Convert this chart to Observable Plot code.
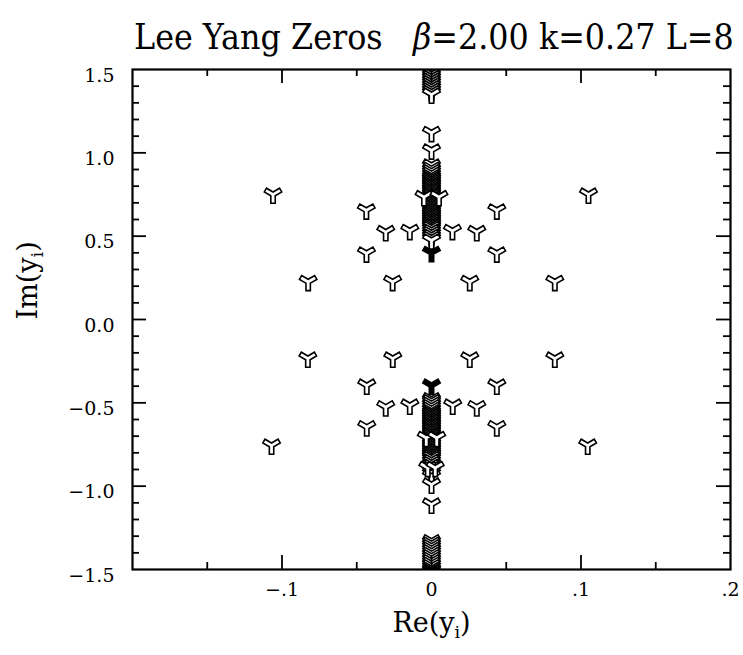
<!DOCTYPE html>
<html>
<head>
<meta charset="utf-8">
<script src="https://cdn.jsdelivr.net/npm/d3@7"></script>
<script src="https://cdn.jsdelivr.net/npm/@observablehq/plot@0.6"></script>
<style>
  body { margin: 0; background: #fff; }
  #chart { width: 743px; height: 655px; }
  #chart svg { display: block; }
</style>
</head>
<body>
<div id="chart"></div>
<script>
// ---- text ----
const titleMain = "Lee Yang Zeros\u00a0\u00a0\u00a0";
const titleBeta = "β";
const titleRest = "=2.00 k=0.27 L=8";
const xAxisTitle = ["Re(y", "i", ")"];
const yAxisTitle = ["Im(y", "i", ")"];

// ---- ticks ----
const xMinorTicks = [-0.15, -0.05, 0.05, 0.15];
const xMajorTicks = [-0.1, 0, 0.1];
const xLabelValues = [-0.1, 0, 0.1, 0.2];
const xTickLabels = ["\u2212.1", "0", ".1", ".2"];
const yMinorTicks = [-1.4, -1.3, -1.2, -1.1, -0.9, -0.8, -0.7, -0.6, -0.4, -0.3, -0.2, -0.1,
                     0.1, 0.2, 0.3, 0.4, 0.6, 0.7, 0.8, 0.9, 1.1, 1.2, 1.3, 1.4];
const yMajorTicks = [-1.0, -0.5, 0, 0.5, 1.0];
const yLabelValues = [-1.5, -1.0, -0.5, 0, 0.5, 1.0, 1.5];
const yTickLabels = ["\u22121.5", "\u22121.0", "\u22120.5", "0.0", "0.5", "1.0", "1.5"];

// ---- data: zeros off the imaginary axis ----
const offAxisRe = [-0.106, 0.105, -0.0436, 0.0437, -0.0306, 0.0303, -0.0145, 0.014,
                   -0.0435, 0.0437, -0.0825, 0.0825, -0.026, 0.0256,
                   -0.0827, 0.0825, -0.0259, 0.0256, -0.0433, 0.0437, -0.0145, 0.0142,
                   -0.0306, 0.0303, -0.0433, 0.0437, -0.107, 0.1045];
const offAxisIm = [0.75, 0.75, 0.655, 0.655, 0.525, 0.525, 0.532, 0.532,
                   0.397, 0.397, 0.226, 0.226, 0.226, 0.226,
                   -0.234, -0.234, -0.234, -0.234, -0.396, -0.396, -0.516, -0.516,
                   -0.526, -0.526, -0.646, -0.646, -0.756, -0.756];

// zeros very slightly off the axis (pairs inside the column)
const nearAxisRe = [-0.005, 0.005, -0.0035, 0.0035, -0.0025, 0.0025];
const nearAxisIm = [0.735, 0.735, -0.71, -0.71, -0.89, -0.89];

// zeros on the imaginary axis (Re = 0), from top to bottom
const onAxisIm = [1.52, 1.5, 1.485, 1.47, 1.455, 1.44, 1.425, 1.41, 1.395, 1.38, 1.365, 1.35,
  1.12, 1.015,
  0.925, 0.905, 0.89, 0.875, 0.86, 0.85, 0.84, 0.83, 0.82, 0.81, 0.80, 0.79, 0.78, 0.77,
  0.76, 0.75, 0.74, 0.73, 0.72, 0.71, 0.70, 0.69, 0.68, 0.67, 0.66, 0.65, 0.64, 0.63,
  0.62, 0.61, 0.60, 0.59, 0.58, 0.57, 0.56, 0.55, 0.535, 0.52, 0.505, 0.49, 0.475,
  -0.478, -0.49, -0.505, -0.52, -0.535, -0.55, -0.56, -0.57, -0.58, -0.59, -0.60, -0.61,
  -0.62, -0.63, -0.64, -0.65, -0.66, -0.67, -0.68, -0.69, -0.70, -0.71, -0.72, -0.73,
  -0.74, -0.75, -0.76, -0.77, -0.78, -0.79, -0.80, -0.81, -0.82, -0.83, -0.845, -0.86,
  -0.875, -0.89, -0.905, -0.92, -0.94,
  -0.99, -1.11,
  -1.33, -1.345, -1.36, -1.375, -1.39, -1.405, -1.42, -1.435, -1.45, -1.465, -1.48, -1.495];

// dense (solid-looking) zeros
const denseIm = [0.40, -0.396, -1.505];

// ---- build tables ----
const offAxis = offAxisRe.map((re, i) => ({re, im: offAxisIm[i]}));
const nearAxis = nearAxisRe.map((re, i) => ({re, im: nearAxisIm[i]}));
const onAxis = onAxisIm.map(im => ({re: 0, im}));
const dense = denseIm.map(im => ({re: 0, im}));

// ---- Y-shaped marker (three arms, stem down) ----
const yMarker = {
  draw(context, size) {
    const r = Math.sqrt(size / Math.PI);
    const L = r * 2.0, w = r * 0.5;
    const inner = 2 * w / Math.sqrt(3);
    const angles = [-30, 90, 210].map(a => a * Math.PI / 180);
    angles.forEach((t, i) => {
      const ux = Math.cos(t), uy = Math.sin(t), nx = -uy, ny = ux;
      const p1 = [L * ux - w * nx, L * uy - w * ny];
      const p2 = [L * ux + w * nx, L * uy + w * ny];
      if (i === 0) context.moveTo(p1[0], p1[1]); else context.lineTo(p1[0], p1[1]);
      context.lineTo(p2[0], p2[1]);
      const b = t + Math.PI / 3;
      context.lineTo(inner * Math.cos(b), inner * Math.sin(b));
    });
    context.closePath();
  }
};

const TH = 62;
const W = 743, H = 655 - TH, ML = 132, MR = 13, MT = 69 - TH, MB = 86;
const FW = W - ML - MR, FH = H - MT - MB;
const dotStyle = {x: "re", y: "im", symbol: yMarker, r: 4.4, stroke: "black", strokeWidth: 1.6,
  strokeLinejoin: "miter", clip: true};

// ---- title ----
const chart = d3.select("#chart");
const tsvg = chart.append("svg").attr("width", W).attr("height", TH);
const tt = tsvg.append("text")
  .attr("x", 134).attr("y", 49)
  .attr("font-family", "'DejaVu Serif Condensed', 'DejaVu Serif', serif")
  .attr("font-stretch", "condensed")
  .attr("font-size", 36).attr("fill", "black");
tt.append("tspan").text(titleMain);
tt.append("tspan").attr("font-style", "italic").text(titleBeta);
tt.append("tspan").text(titleRest);
// fit the title to the frame width
const natural = tt.node().getComputedTextLength();
if (natural > 0) tt.attr("font-size", 36 * 600 / natural);

// ---- plot ----
const plot = Plot.plot({
  width: W, height: H,
  marginLeft: ML, marginRight: MR, marginTop: MT, marginBottom: MB,
  x: {domain: [-0.2, 0.2], axis: null},
  y: {domain: [-1.5, 1.5], axis: null},
  style: {fontFamily: "DejaVu Serif", background: "white", color: "black", overflow: "visible"},
  marks: [
    Plot.dot(offAxis, {...dotStyle, fill: "white"}),
    Plot.dot(onAxis, {...dotStyle, fill: "white"}),
    Plot.dot(nearAxis, {...dotStyle, fill: "white"}),
    Plot.dot(dense, {...dotStyle, fill: "black"}),
    Plot.frame({stroke: "black", strokeWidth: 2.2}),
    // inward ticks, bottom & top
    Plot.tickX(xMinorTicks, {x: d => d, insetTop: FH - 7, stroke: "black", strokeWidth: 1.8}),
    Plot.tickX(xMajorTicks, {x: d => d, insetTop: FH - 14, stroke: "black", strokeWidth: 1.8}),
    Plot.tickX(xMinorTicks, {x: d => d, insetBottom: FH - 7, stroke: "black", strokeWidth: 1.8}),
    Plot.tickX(xMajorTicks, {x: d => d, insetBottom: FH - 14, stroke: "black", strokeWidth: 1.8}),
    // inward ticks, left & right
    Plot.tickY(yMinorTicks, {y: d => d, insetRight: FW - 7, stroke: "black", strokeWidth: 1.8}),
    Plot.tickY(yMajorTicks, {y: d => d, insetRight: FW - 14, stroke: "black", strokeWidth: 1.8}),
    Plot.tickY(yMinorTicks, {y: d => d, insetLeft: FW - 7, stroke: "black", strokeWidth: 1.8}),
    Plot.tickY(yMajorTicks, {y: d => d, insetLeft: FW - 14, stroke: "black", strokeWidth: 1.8}),
    // tick labels
    Plot.text(xLabelValues, {x: d => d, text: (d, i) => xTickLabels[i], frameAnchor: "bottom",
      dy: 26, fontSize: 19, fill: "black"}),
    Plot.text(yLabelValues, {y: d => d, text: (d, i) => yTickLabels[i], frameAnchor: "left",
      textAnchor: "end", dx: -18, dy: 6, fontSize: 19, fill: "black"}),
    // axis titles
    Plot.text([xAxisTitle.join("")], {text: d => d, frameAnchor: "bottom", dy: 62, fontSize: 27, fill: "black"}),
    Plot.text([yAxisTitle.join("")], {text: d => d, frameAnchor: "left", dx: -104, rotate: -90,
      fontSize: 27, fill: "black"})
  ]
});
chart.node().appendChild(plot);

// subscript i in axis titles
function subscriptify(parts) {
  const full = parts.join("");
  d3.select(plot).selectAll("text").filter(function () { return this.textContent === full; })
    .each(function () {
      const t = d3.select(this);
      t.text(null);
      t.append("tspan").text(parts[0]);
      t.append("tspan").attr("font-size", "65%").attr("dy", 6).text(parts[1]);
      t.append("tspan").attr("dy", -6).text(parts[2]);
    });
}
subscriptify(xAxisTitle);
subscriptify(yAxisTitle);
</script>
</body>
</html>
